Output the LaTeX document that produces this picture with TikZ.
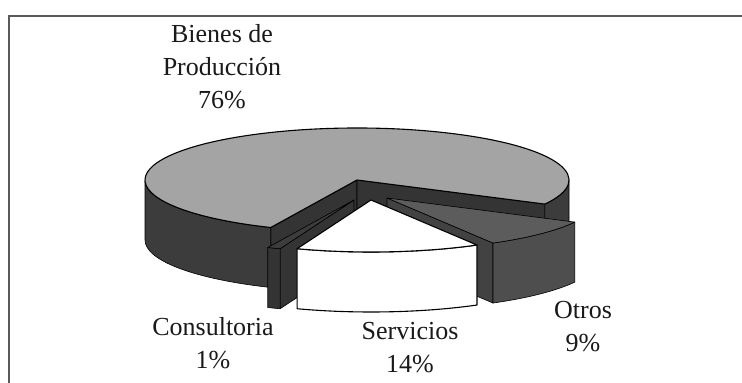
\documentclass[tikz,border=0pt]{standalone}
\usepackage{fontspec}
\setmainfont{Liberation Serif}

\definecolor{topgray}{RGB}{164,164,164}
\definecolor{sidegray}{RGB}{60,60,60}
\definecolor{cutgray}{RGB}{52,52,52}
\definecolor{otrotop}{RGB}{92,92,92}
\definecolor{otroside}{RGB}{78,78,78}
\definecolor{framegray}{RGB}{90,90,90}

% slice pieces: center, angles, style
\newcommand{\topface}[4]{\filldraw [#4] (#1) -- ++(#2:212 and 52) arc [start angle=#2, end angle=#3, x radius=212, y radius=52] -- cycle;}
\newcommand{\outerface}[4]{\filldraw [#4] (#1) ++(#2:212 and 52) arc [start angle=#2, end angle=#3, x radius=212, y radius=52] -- ++(0,-60) arc [start angle=#3, end angle=#2, x radius=212, y radius=52] -- cycle;}
\newcommand{\cutface}[3]{\filldraw [#3] (#1) -- ++(#2:212 and 52) -- ++(0,-60) -- ++({-212*cos(#2)},{-52*sin(#2)}) -- cycle;}

\begin{document}
\begin{tikzpicture}[x=1pt, y=1pt,
	lbl/.style={align=center, inner sep=0pt, anchor=north, text=black!90, font=\fontsize{26}{33}\selectfont},
	edge/.style={draw=black, line width=0.6pt, line join=round}]
				\useasboundingbox (0,0) rectangle (742,383);
				\draw [framegray, line width=1.3pt] (9,0) -- (9,367) -- (742,367);
				\coordinate (mc) at (357,203);
				\coordinate (cc) at (354,183);
				\coordinate (oc) at (387,185);
				\coordinate (sc) at (371,183);
				% Bienes de Produccion
				\cutface{mc}{246}{edge, fill=cutgray}
				\cutface{mc}{332.4}{edge, fill=cutgray}
				\outerface{mc}{180}{246}{edge, fill=sidegray}
				\outerface{mc}{332.4}{360}{edge, fill=sidegray}
				\topface{mc}{332.4}{606}{edge, fill=topgray, line width=1.1pt}
				% Consultoria
				\cutface{cc}{249.6}{edge, fill=cutgray}
				\outerface{cc}{246}{249.6}{edge, fill=cutgray}
				\topface{cc}{246}{249.6}{edge, fill=sidegray}
				% Otros
				\cutface{oc}{300}{edge, fill=otroside!85!black}
				\outerface{oc}{300}{332.4}{edge, fill=otroside}
				\topface{oc}{300}{332.4}{edge, fill=otrotop}
				% Servicios
				\outerface{sc}{249.6}{300}{edge, fill=white, line width=1.1pt}
				\topface{sc}{249.6}{300}{edge, fill=white, line width=1.1pt}
				\node [lbl] (bienes) at (222,359) {Bienes de\\Producción\\76\%};
				\node [lbl] (consult) at (213,66) {Consultoria\\1\%};
				\node [lbl] (serv) at (410,61) {Servicios\\14\%};
				\node [lbl] (otros) at (583,82) {Otros\\9\%};
\end{tikzpicture}
\end{document}
